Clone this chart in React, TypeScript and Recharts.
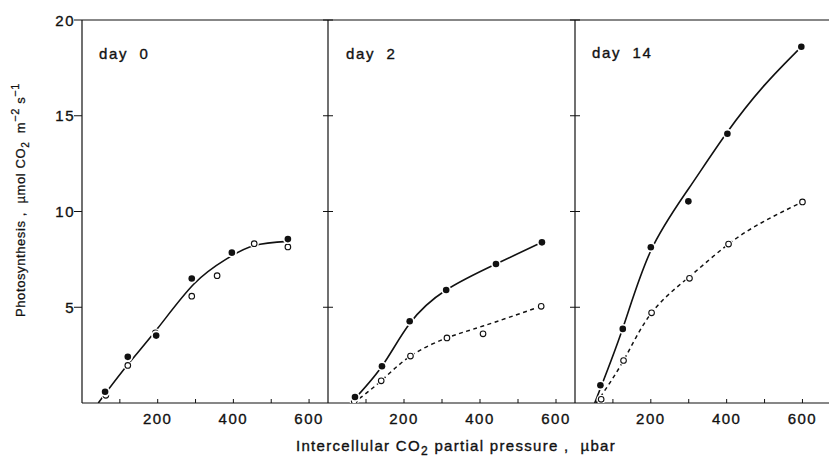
import React from 'react';
import { ComposedChart, Line, Scatter, XAxis, YAxis } from 'recharts';

// ---- data ----
const xTickValues = [100, 200, 300, 400, 500, 600];
const xLabelValues = [200, 400, 600];
const yTickValues = [5, 10, 15, 20];
const panelTitles = ['day 0', 'day 2', 'day 14'];

const day0Filled = [
  { x: 61, y: 0.59 }, { x: 121, y: 2.41 }, { x: 196, y: 3.52 },
  { x: 290, y: 6.5 }, { x: 396, y: 7.85 }, { x: 544, y: 8.56 },
];
const day0Open = [
  { x: 63, y: 0.4 }, { x: 121, y: 1.96 }, { x: 194, y: 3.66 }, { x: 290, y: 5.58 },
  { x: 357, y: 6.65 }, { x: 455, y: 8.32 }, { x: 544, y: 8.15 },
];
const day0Curve = [
  { x: 43, y: 0 }, { x: 120, y: 1.98 }, { x: 200, y: 3.9 }, { x: 295, y: 6.2 },
  { x: 380, y: 7.5 }, { x: 455, y: 8.22 }, { x: 544, y: 8.44 },
];

const day2Filled = [
  { x: 71, y: 0.31 }, { x: 142, y: 1.92 }, { x: 215, y: 4.27 },
  { x: 311, y: 5.9 }, { x: 442, y: 7.26 }, { x: 563, y: 8.39 },
];
const day2Open = [
  { x: 69, y: 0.1 }, { x: 140, y: 1.16 }, { x: 217, y: 2.45 },
  { x: 313, y: 3.4 }, { x: 408, y: 3.61 }, { x: 561, y: 5.05 },
];
const day2SolidCurve = [
  { x: 60, y: 0 }, { x: 142, y: 1.92 }, { x: 215, y: 4.15 },
  { x: 311, y: 5.9 }, { x: 442, y: 7.26 }, { x: 563, y: 8.39 },
];
const day2DashedCurve = [
  { x: 67, y: 0 }, { x: 140, y: 1.16 }, { x: 217, y: 2.45 },
  { x: 313, y: 3.4 }, { x: 408, y: 4.02 }, { x: 561, y: 5.05 },
];

const day14Filled = [
  { x: 67, y: 0.93 }, { x: 126, y: 3.87 }, { x: 200, y: 8.13 },
  { x: 299, y: 10.53 }, { x: 402, y: 14.06 }, { x: 597, y: 18.6 },
];
const day14Open = [
  { x: 69, y: 0.19 }, { x: 128, y: 2.22 }, { x: 202, y: 4.71 },
  { x: 302, y: 6.51 }, { x: 405, y: 8.3 }, { x: 600, y: 10.5 },
];
const day14SolidCurve = [
  { x: 52, y: 0 }, { x: 126, y: 3.9 }, { x: 200, y: 7.95 },
  { x: 300, y: 11.2 }, { x: 400, y: 14.1 }, { x: 500, y: 16.6 }, { x: 597, y: 18.6 },
];
const day14DashedCurve = [
  { x: 56, y: 0 }, { x: 128, y: 2.22 }, { x: 202, y: 4.71 },
  { x: 302, y: 6.6 }, { x: 405, y: 8.3 }, { x: 500, y: 9.5 }, { x: 600, y: 10.5 },
];

// ---- styling ----
const FONT = '"Liberation Sans", Arial, sans-serif';
const INK = '#111';
const textStroke = { stroke: INK, strokeWidth: 0.35 };

const BottomTick = (props: any) => {
  const { x, y, payload } = props;
  const v = payload.value;
  return (
    <g>
      <line x1={x} x2={x} y1={y} y2={y - 4} stroke={INK} strokeWidth={1} />
      {xLabelValues.includes(v) && (
        <text x={x} y={y + 21} textAnchor="middle" fontFamily={FONT} fontSize={15}
          letterSpacing={1.5} fill={INK} {...textStroke}>{v}</text>
      )}
    </g>
  );
};

const TopTick = (props: any) => {
  const { x, y } = props;
  return <line x1={x} x2={x} y1={y} y2={y + 4} stroke={INK} strokeWidth={1} />;
};

const LeftLabelTick = (props: any) => {
  const { x, y, payload } = props;
  return (
    <g>
      <line x1={x} x2={x - 8} y1={y} y2={y} stroke={INK} strokeWidth={1} />
      <text x={x - 7} y={y + 5.5} textAnchor="end" fontFamily={FONT} fontSize={15}
        letterSpacing={1.5} fill={INK} {...textStroke}>{payload.value}</text>
    </g>
  );
};

const CrossTick = (props: any) => {
  const { x, y } = props;
  return <line x1={x - 5} x2={x + 5} y1={y} y2={y} stroke={INK} strokeWidth={1} />;
};

const FilledDot = (props: any) => {
  const { cx, cy } = props;
  return (
    <g>
      <circle cx={cx} cy={cy} r={5} fill="#fff" />
      <circle cx={cx} cy={cy} r={3.3} fill={INK} />
    </g>
  );
};

const OpenDot = (props: any) => {
  const { cx, cy } = props;
  return (
    <g>
      <circle cx={cx} cy={cy} r={4.6} fill="#fff" />
      <circle cx={cx} cy={cy} r={2.8} fill="#fff" stroke={INK} strokeWidth={1.1} />
    </g>
  );
};

type Pt = { x: number; y: number };
type PanelProps = {
  left: number;
  width: number;
  plotLeft: number;
  plotRight: number;
  xMax: number;
  leftLabels: boolean;
  rightAxis: boolean;
  solid: Pt[];
  dashed?: Pt[];
  filled: Pt[];
  open: Pt[];
};

const TOP = 20;
const BOTTOM = 403;
const H = 457;

function Panel(p: PanelProps) {
  const mLeft = p.plotLeft - (p.leftLabels ? 1 : 0);
  const mRight = p.width - p.plotRight - (p.rightAxis ? 1 : 0);
  return (
    <div style={{ position: 'absolute', left: p.left, top: 0, width: p.width, height: H }}>
      <ComposedChart width={p.width} height={H}
        margin={{ top: TOP - 1, bottom: H - BOTTOM - 1, left: mLeft, right: mRight }}>
        <XAxis xAxisId={0} dataKey="x" type="number" domain={[0, p.xMax]} ticks={xTickValues}
          height={1} tickSize={0} tickMargin={0} tickLine={false} tick={<BottomTick />}
          axisLine={{ stroke: INK, strokeWidth: 1.2 }} allowDataOverflow interval={0} />
        <XAxis xAxisId="top" orientation="top" type="number" domain={[0, p.xMax]} ticks={xTickValues}
          height={1} tickSize={0} tickMargin={0} tickLine={false} tick={<TopTick />}
          axisLine={{ stroke: INK, strokeWidth: 1.2 }} allowDataOverflow interval={0} />
        <YAxis yAxisId={0} dataKey="y" type="number" domain={[0, 20]} ticks={yTickValues}
          width={1} tickSize={0} tickMargin={0} tickLine={false}
          tick={p.leftLabels ? <LeftLabelTick /> : false}
          hide={!p.leftLabels}
          axisLine={{ stroke: INK, strokeWidth: 1.2 }} allowDataOverflow interval={0} />
        {p.rightAxis && (
          <YAxis yAxisId="right" orientation="right" type="number" domain={[0, 20]} ticks={yTickValues}
            width={1} tickSize={0} tickMargin={0} tickLine={false} tick={<CrossTick />}
            axisLine={{ stroke: INK, strokeWidth: 1.2 }} allowDataOverflow interval={0} />
        )}
        <Line data={p.solid} dataKey="y" type="natural" stroke={INK} strokeWidth={1.6}
          dot={false} activeDot={false} isAnimationActive={false} />
        {p.dashed && (
          <Line data={p.dashed} dataKey="y" type="natural" stroke={INK} strokeWidth={1.5}
            strokeDasharray="4 3.5" dot={false} activeDot={false} isAnimationActive={false} />
        )}
        <Scatter data={p.open} dataKey="y" shape={<OpenDot />} isAnimationActive={false} />
        <Scatter data={p.filled} dataKey="y" shape={<FilledDot />} isAnimationActive={false} />
      </ComposedChart>
    </div>
  );
}

export default function App() {
  return (
    <div style={{ position: 'absolute', left: 0, top: 0, width: 831, height: 457, background: '#fff', overflow: 'hidden' }}>
      <Panel left={0} width={340} plotLeft={82} plotRight={328} xMax={650}
        leftLabels={true} rightAxis={true}
        solid={day0Curve} filled={day0Filled} open={day0Open} />
      <Panel left={300} width={290} plotLeft={28} plotRight={275} xMax={650}
        leftLabels={false} rightAxis={true}
        solid={day2SolidCurve} dashed={day2DashedCurve} filled={day2Filled} open={day2Open} />
      <Panel left={545} width={286} plotLeft={30} plotRight={284} xMax={670}
        leftLabels={false} rightAxis={false}
        solid={day14SolidCurve} dashed={day14DashedCurve} filled={day14Filled} open={day14Open} />
      <svg width={831} height={457} style={{ position: 'absolute', left: 0, top: 0, pointerEvents: 'none' }}>
        <text x={99} y={59} fontFamily={FONT} fontSize={15} letterSpacing={1.6} fill={INK} {...textStroke} style={{ whiteSpace: 'pre' }}>{panelTitles[0].replace(' ', '  ')}</text>
        <text x={346} y={59} fontFamily={FONT} fontSize={15} letterSpacing={1.6} fill={INK} {...textStroke} style={{ whiteSpace: 'pre' }}>{panelTitles[1].replace(' ', '  ')}</text>
        <text x={592} y={58} fontFamily={FONT} fontSize={15} letterSpacing={1.6} fill={INK} {...textStroke} style={{ whiteSpace: 'pre' }}>{panelTitles[2].replace(' ', '  ')}</text>
        <text transform="translate(25,200) rotate(-90)" textAnchor="middle" fontFamily={FONT}
          fontSize={13} letterSpacing={0.6} fill={INK} stroke={INK} strokeWidth={0.25} style={{ whiteSpace: 'pre' }}>
          Photosynthesis ,  µmol CO<tspan dy={4} fontSize={10}>2</tspan>
          <tspan dy={-4}>  m</tspan><tspan dy={-6} fontSize={11}>−2</tspan>
          <tspan dy={6}> s</tspan><tspan dy={-6} fontSize={11}>−1</tspan>
        </text>
        <text x={456} y={451} textAnchor="middle" fontFamily={FONT} fontSize={15}
          letterSpacing={1.3} fill={INK} {...textStroke} style={{ whiteSpace: 'pre' }}>
          Intercellular CO<tspan dy={4} fontSize={12}>2</tspan><tspan dy={-4}> partial pressure ,  µbar</tspan>
        </text>
      </svg>
    </div>
  );
}
